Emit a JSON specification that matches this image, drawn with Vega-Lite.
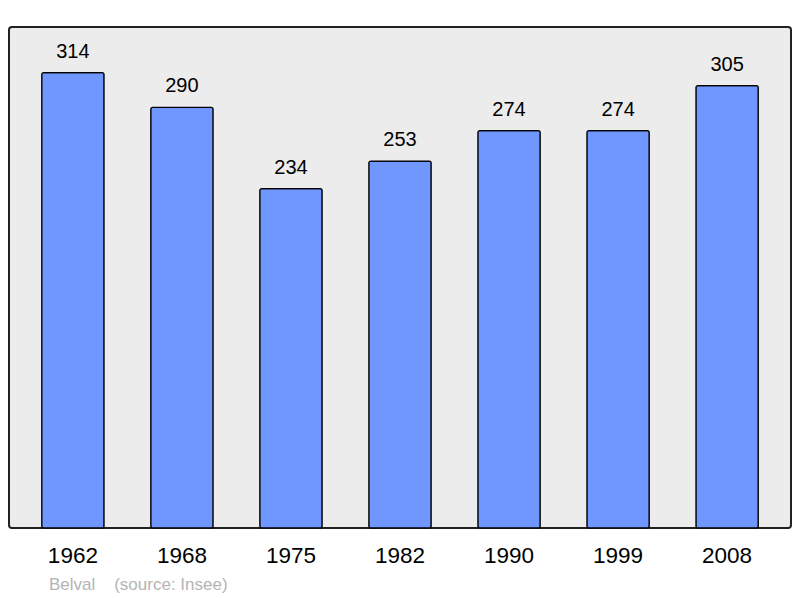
{
  "$schema": "https://vega.github.io/schema/vega-lite/v6.json",
  "width": 782,
  "height": 501,
  "autosize": "none",
  "padding": {"left": 9, "top": 27, "right": 9, "bottom": 70},
  "background": "white",
  "config": {
    "font": "Liberation Sans",
    "view": {"fill": "#ececec", "stroke": "#222222", "strokeWidth": 2, "cornerRadius": 3}
  },
  "title": {
    "text": "Belval\u00a0\u00a0\u00a0 (source: Insee)",
    "orient": "bottom",
    "anchor": "start",
    "dx": 40,
    "offset": 10,
    "fontSize": 17,
    "fontWeight": "normal",
    "color": "#b4b4b4",
    "font": "Liberation Sans"
  },
  "data": {
    "values": [
      {"year": "1962", "pop": 314},
      {"year": "1968", "pop": 290},
      {"year": "1975", "pop": 234},
      {"year": "1982", "pop": 253},
      {"year": "1990", "pop": 274},
      {"year": "1999", "pop": 274},
      {"year": "2008", "pop": 305}
    ]
  },
  "encoding": {
    "x": {
      "field": "year",
      "type": "nominal",
      "sort": null,
      "scale": {"paddingInner": 0.428, "paddingOuter": 0.3},
      "axis": {
        "title": null,
        "labelAngle": 0,
        "labelFontSize": 22.5,
        "labelColor": "#000000",
        "labelPadding": 16,
        "ticks": false,
        "domain": false
      }
    },
    "y": {
      "field": "pop",
      "type": "quantitative",
      "scale": {"domain": [0, 345.4], "nice": false},
      "axis": null
    }
  },
  "layer": [
    {
      "mark": {"type": "bar", "fill": "#7097ff", "stroke": "#000000", "strokeWidth": 1.2, "cornerRadius": 2}
    },
    {
      "mark": {"type": "text", "fontSize": 20, "color": "#000000", "baseline": "alphabetic", "dy": -15},
      "encoding": {"text": {"field": "pop", "type": "quantitative"}}
    }
  ]
}
